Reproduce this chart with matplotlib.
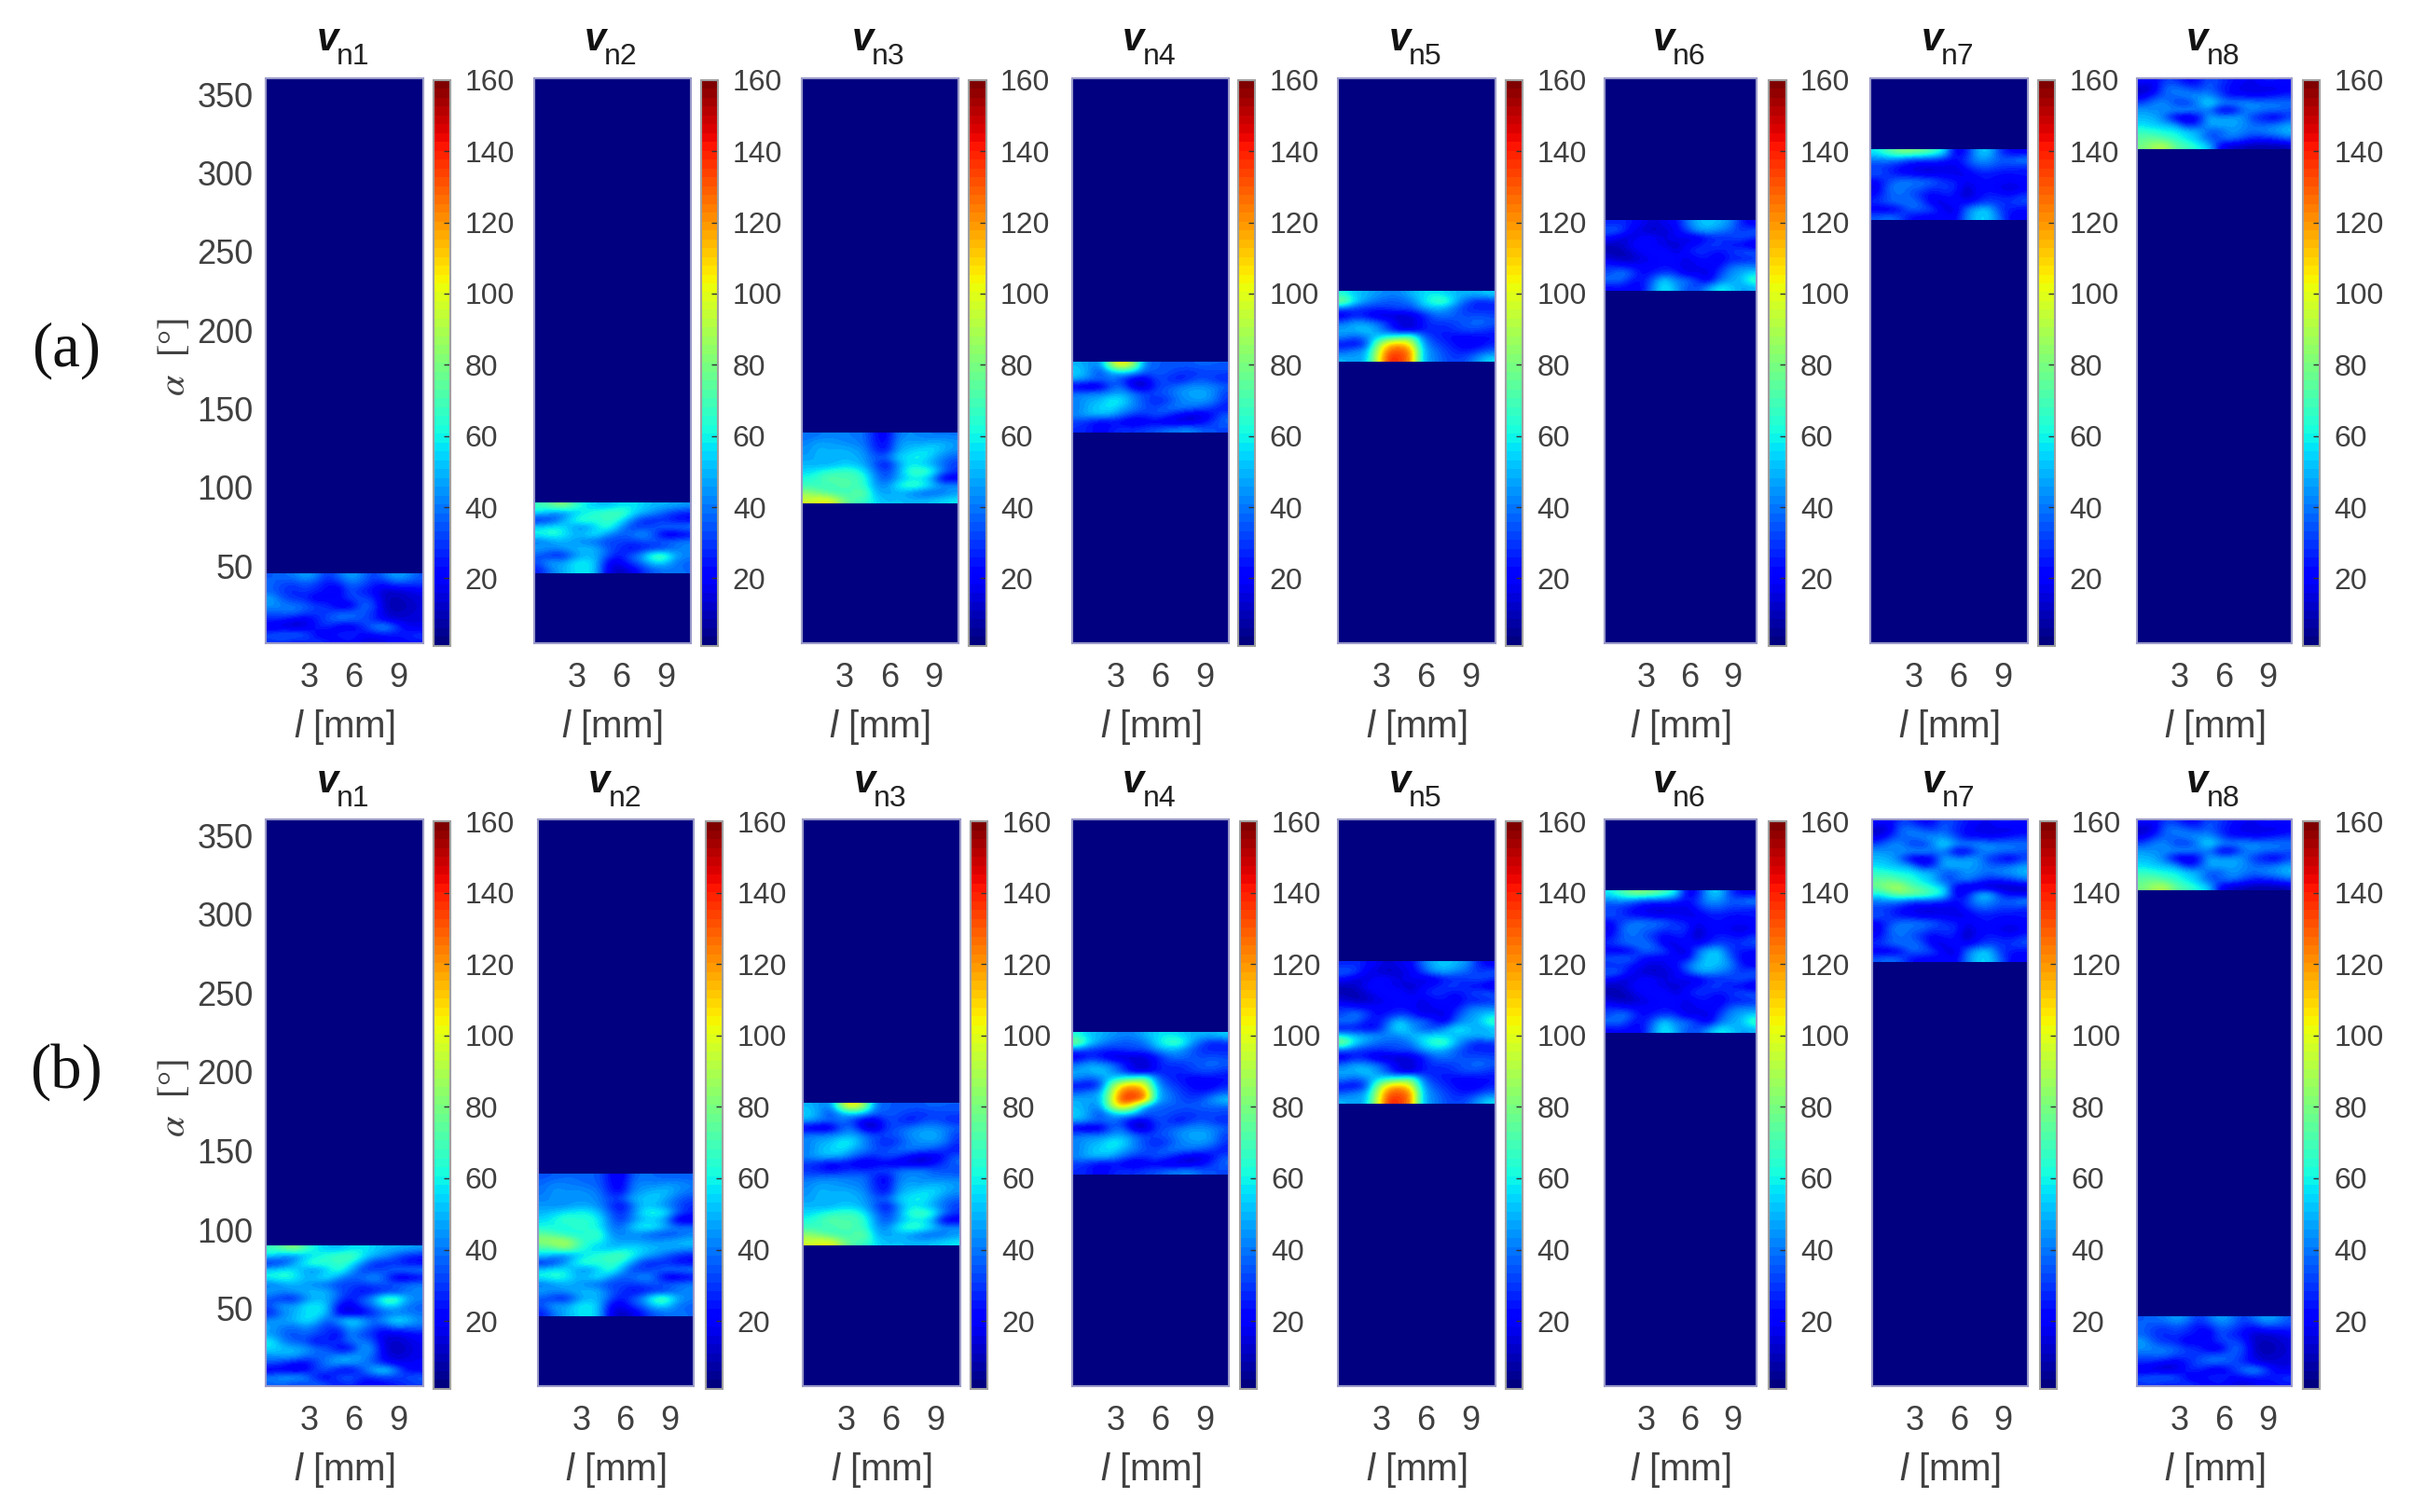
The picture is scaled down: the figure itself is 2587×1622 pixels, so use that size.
import numpy as np
import matplotlib
matplotlib.use('Agg')
import matplotlib.pyplot as plt

W, H = 2587, 1622
plt.rcParams['font.family'] = ['Liberation Sans', 'DejaVu Sans']
plt.rcParams['mathtext.fontset'] = 'custom'
plt.rcParams['mathtext.it'] = 'Liberation Sans:italic'
plt.rcParams['mathtext.rm'] = 'Liberation Sans'

# velocity grids per 45 deg sector; rows run from high alpha to low alpha, columns along l
S1 = [[35,38,40,48,42,28,38,48,42,30,38,48,45,35],
      [38,32,30,35,30,22,25,38,35,26,22,32,30,30],
      [36,30,26,30,26,22,15,35,25,22,12,12,14,18],
      [48,34,28,26,16,20,22,32,34,28,12,10,12,15],
      [45,42,40,38,30,28,15,14,36,36,12,8,10,14],
      [35,38,40,32,30,30,36,38,36,30,15,10,12,14],
      [28,24,18,16,24,34,40,38,34,28,18,14,14,16],
      [12,14,10,14,26,28,16,14,26,40,50,36,18,16],
      [35,38,40,36,20,14,28,30,22,22,26,24,26,30],
      [28,30,24,26,30,26,18,24,16,14,16,20,22,24]]
S2 = [[68,75,85,70,58,52,50,55,58,55,50,50,48,46],
      [55,45,40,50,58,66,70,74,62,50,45,35,28,24],
      [25,30,45,62,70,62,68,62,45,28,25,28,22,20],
      [55,60,58,46,40,55,66,50,30,30,34,40,42,45],
      [62,66,62,50,55,60,45,35,38,48,38,14,12,18],
      [38,45,48,46,40,36,30,32,30,32,35,38,40,42],
      [48,44,46,50,52,50,36,30,20,24,26,28,38,42],
      [34,26,24,40,50,48,36,22,35,45,72,76,50,42],
      [35,50,46,58,60,52,20,16,30,38,54,55,40,36],
      [25,40,48,55,60,50,18,10,14,26,35,38,40,38]]
S3 = [[38,40,42,42,40,40,24,18,40,44,42,40,40,40],
      [42,48,46,44,42,40,26,20,44,48,46,50,50,46],
      [44,50,48,50,48,44,28,22,46,52,56,58,50,44],
      [46,50,50,50,50,46,36,38,55,58,62,52,42,36],
      [50,48,48,52,52,48,34,20,42,58,54,48,38,30],
      [55,60,65,68,68,58,40,30,45,66,72,66,42,30],
      [62,68,76,70,72,66,44,32,46,56,56,48,14,14],
      [68,66,66,74,70,66,46,42,60,70,68,55,46,46],
      [84,78,70,66,70,78,50,46,48,44,36,35,38,44],
      [96,100,102,84,70,68,56,50,52,50,50,52,55,58]]
S4 = [[50,45,42,90,110,85,40,36,35,35,35,38,36,36],
      [56,45,30,48,55,50,35,36,34,30,28,30,32,32],
      [48,42,38,40,28,14,16,32,30,22,30,35,30,25],
      [14,10,12,35,38,12,10,30,34,40,44,44,42,38],
      [40,42,42,45,48,40,32,34,36,44,48,50,44,30],
      [42,48,50,62,58,42,32,24,30,40,44,46,42,30],
      [40,50,55,58,48,42,34,32,40,42,40,36,30,22],
      [44,50,52,48,38,30,28,36,30,20,14,14,22,36],
      [30,26,18,22,18,12,18,18,12,14,12,20,30,38],
      [28,25,20,25,30,28,32,34,40,42,44,36,34,32]]
S5 = [[62,52,50,45,42,42,50,55,58,55,50,50,50,55],
      [85,58,45,38,35,35,40,56,68,72,50,34,24,28],
      [36,30,28,28,30,34,32,44,50,46,36,28,26,26],
      [14,24,22,10,12,10,14,22,36,40,36,32,34,32],
      [38,48,44,40,28,16,12,24,30,28,32,36,40,36],
      [48,50,56,45,30,14,10,24,26,26,30,34,32,28],
      [44,36,42,52,62,68,80,40,28,24,20,20,22,22],
      [22,18,30,80,110,118,100,48,34,28,22,18,18,26],
      [35,44,46,90,130,132,125,52,40,32,26,24,30,36],
      [50,46,48,95,140,136,125,50,42,34,30,34,46,56]]
S6 = [[26,28,24,18,14,18,20,38,50,54,50,44,26,18],
      [38,34,18,14,10,14,18,30,46,48,42,36,28,36],
      [22,14,14,22,22,14,20,16,14,24,26,30,36,30],
      [10,12,20,24,18,16,12,18,24,30,32,24,20,12],
      [10,8,14,20,24,24,14,24,30,26,22,28,36,36],
      [14,10,10,16,18,22,24,14,22,24,16,26,22,28],
      [28,24,22,20,20,24,18,16,18,20,22,36,42,40],
      [32,44,34,20,26,30,30,14,18,14,30,44,48,55],
      [40,38,24,22,38,58,40,42,28,16,38,46,50,70],
      [20,22,20,22,44,60,48,34,32,46,60,55,46,48]]
S7 = [[58,70,80,82,78,70,60,18,22,50,55,30,20,18],
      [40,42,40,30,30,30,26,22,30,46,44,36,38,46],
      [30,28,22,18,14,14,16,14,26,34,36,30,30,26],
      [36,30,22,20,16,16,18,16,16,24,24,22,22,24],
      [20,30,40,42,40,38,28,26,18,22,24,22,20,22],
      [14,36,44,36,36,28,30,30,10,20,22,16,12,18],
      [22,34,38,36,26,18,26,22,10,20,26,26,22,30],
      [28,36,40,40,36,16,14,28,18,26,32,28,30,34],
      [18,14,20,38,36,34,16,12,38,52,54,30,24,22],
      [35,40,36,22,20,18,24,18,40,54,54,38,20,18]]
S8 = [[22,18,32,30,20,22,36,30,24,20,16,26,24,22],
      [10,14,38,42,36,30,38,26,22,14,16,14,14,20],
      [16,28,36,38,44,46,44,34,20,24,18,22,26,28],
      [32,42,44,30,26,42,62,45,45,46,44,42,40,40],
      [46,42,44,46,48,40,40,16,14,36,44,38,40,34],
      [50,50,38,14,10,20,50,44,48,46,28,22,14,30],
      [56,52,50,46,22,28,50,50,48,44,38,36,40,46],
      [66,64,60,60,54,50,34,34,46,42,38,44,46,52],
      [74,76,70,64,56,50,32,38,42,34,26,26,30,38],
      [78,88,92,74,70,60,55,18,12,10,8,8,8,10]]
sectors = [S1, S2, S3, S4, S5, S6, S7, S8]

panel_titles = ['n1', 'n2', 'n3', 'n4', 'n5', 'n6', 'n7', 'n8']
row_labels = ['(a)', '(b)']
y_ticks = [50, 100, 150, 200, 250, 300, 350]
x_ticks = [3, 6, 9]
cbar_ticks = [20, 40, 60, 80, 100, 120, 140, 160]
# runs of adjacent sectors shown in each panel: each run is a list of (sector index, brightness factor)
row_a_sectors = [[[(i, 1.0)]] for i in range(8)]
row_b_sectors = [[[(0, 1.25), (1, 1.0)]], [[(1, 1.0), (2, 0.9)]], [[(2, 1.0), (3, 1.0)]],
                 [[(3, 1.0), (4, 1.0)]], [[(4, 1.0), (5, 1.0)]], [[(5, 1.0), (6, 1.0)]],
                 [[(6, 1.0), (7, 1.0)]], [[(0, 1.0)], [(7, 1.0)]]]

# layout, in reference pixels
S = 2587 / 1568
ax_x_a = [(173, 275), (347, 449), (521, 623), (697, 799), (870, 972), (1043, 1142), (1216, 1318), (1389, 1490)]
ax_x_b = [(173, 275), (350, 451), (522, 624), (697, 799), (870, 972), (1043, 1142), (1217, 1318), (1389, 1490)]
cb_x_a = [(282, 293), (456, 467), (630, 641), (805, 816), (979, 990), (1150, 1161), (1325, 1336), (1497, 1508)]
cb_x_b = [(282, 293), (459, 470), (631, 642), (806, 817), (979, 990), (1150, 1161), (1326, 1337), (1497, 1508)]
rows = [(51, 418, ax_x_a, cb_x_a, row_a_sectors, 228), (533, 901, ax_x_b, cb_x_b, row_b_sectors, 697)]

GRAY = '#404040'
EDGE = '#9a9ac8'
cmap = plt.get_cmap('jet', 64)
fig = plt.figure(figsize=(W / 100, H / 100), dpi=100, facecolor='white')


def rect(x0, x1, y0, y1):
    return [x0 * S / W, 1 - y1 * S / H, (x1 - x0) * S / W, (y1 - y0) * S / H]


for r, (top, bot, axx, cbx, secs, ylab_y) in enumerate(rows):
    fig.text(43 * S / W, 1 - ylab_y * S / H, row_labels[r], family='Liberation Serif',
             fontsize=48, color='#111111', ha='center', va='center')
    for i in range(8):
        ax = fig.add_axes(rect(axx[i][0], axx[i][1], top, bot))
        ax.set_facecolor(cmap(0))
        for run in secs[i]:
            grid = np.vstack([np.array(sectors[s]) * g for s, g in reversed(run)])
            lo = 45 * run[0][0]
            hi = 45 * (run[-1][0] + 1)
            im = ax.imshow(grid, extent=[0.1, 10.65, lo, hi], aspect='auto', cmap=cmap,
                           vmin=1, vmax=160, interpolation='bicubic', origin='upper')
        ax.set_xlim(0.1, 10.65)
        ax.set_ylim(1, 360)
        ax.set_xticks(x_ticks)
        ax.tick_params(axis='x', length=0, pad=15, labelsize=26, labelcolor=GRAY)
        if i == 0:
            ax.set_yticks(y_ticks)
            ax.tick_params(axis='y', length=0, pad=10, labelsize=26, labelcolor=GRAY)
        else:
            ax.set_yticks([])
        ax.set_xlabel(r'$\mathit{l}$ [mm]', fontsize=29, color=GRAY, labelpad=10)
        for sp in ax.spines.values():
            sp.set_color(EDGE)
            sp.set_linewidth(1.5)

        x0, x1 = axx[i]
        fig.text((x0 + 0.39 * (x1 - x0)) * S / W, 1 - (top - 18) * S / H, 'v', fontsize=30, style='italic',
                 weight='bold', color='#111111', ha='center', va='baseline')
        fig.text((x0 + 0.45 * (x1 - x0)) * S / W, 1 - (top - 9) * S / H, panel_titles[i], fontsize=23,
                 color='#222222', ha='left', va='baseline')

        cax = fig.add_axes(rect(cbx[i][0], cbx[i][1], top + 1, bot + 2))
        cb = fig.colorbar(im, cax=cax)
        cb.set_ticks(cbar_ticks)
        cb.ax.tick_params(axis='y', direction='in', length=5, width=1, color='#333333',
                          pad=11, labelsize=23, labelcolor=GRAY)
        cb.outline.set_edgecolor('#a0a0a0')
        cb.outline.set_linewidth(1.5)

    fig.text(114 * S / W, 1 - (top + 181) * S / H, r'$\mathit{\alpha}$  [°]', rotation=90,
             family='Liberation Serif', math_fontfamily='stix', fontsize=29, color=GRAY,
             ha='center', va='center')

fig.savefig('out.png', dpi=100, facecolor='white')
